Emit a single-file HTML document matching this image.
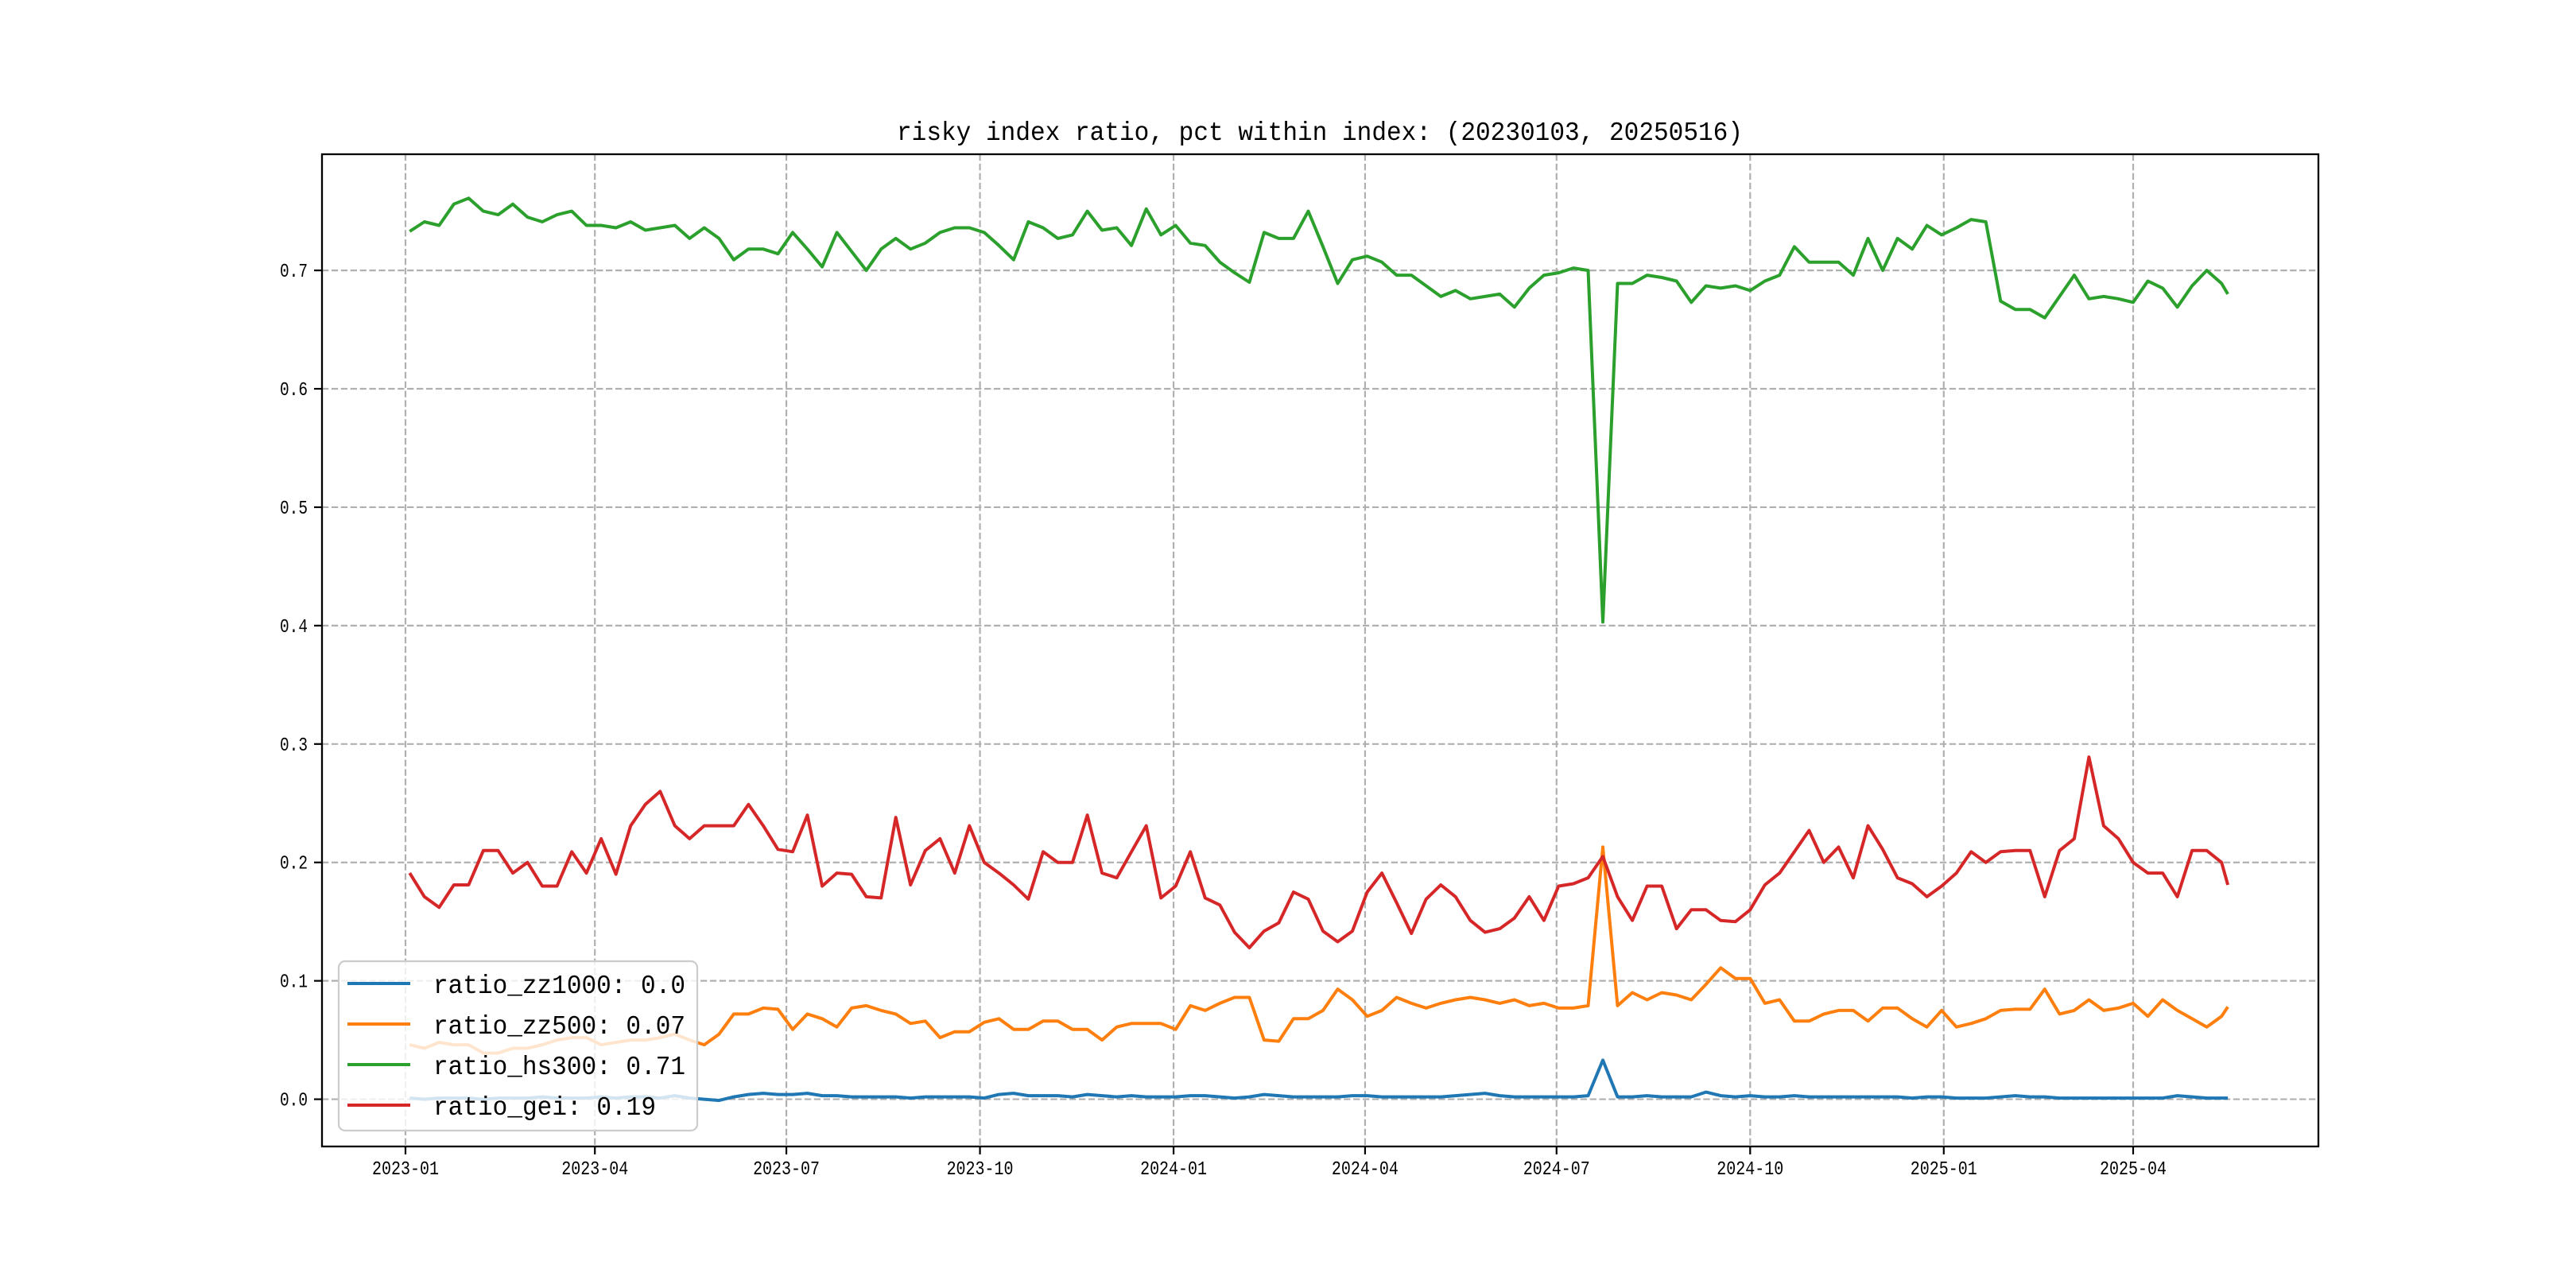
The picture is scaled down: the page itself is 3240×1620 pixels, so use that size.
<!DOCTYPE html>
<html><head><meta charset="utf-8"><style>
html,body{margin:0;padding:0;background:#fff;}
svg{display:block;}
text{font-family:"Liberation Mono","Noto Sans CJK SC",monospace;fill:#000;}
</style></head><body>
<svg id="chart" width="3240" height="1620" viewBox="0 0 3240 1620" xmlns="http://www.w3.org/2000/svg">
<rect x="0" y="0" width="3240" height="1620" fill="#fff"/>
<text x="1660" y="176" font-size="33" text-anchor="middle" textLength="1064" lengthAdjust="spacingAndGlyphs">risky index ratio, pct within index: (20230103, 20250516)</text>
<g id="grid"></g>
<g id="series"></g>
<g id="axes"></g>
<g id="legend"></g>
</svg>
<script>
const startDate = "2023-01-03";
const endDate = "2025-05-16";
const yTicks = [0.0, 0.1, 0.2, 0.3, 0.4, 0.5, 0.6, 0.7];
const xTickLabels = ["2023-01","2023-04","2023-07","2023-10","2024-01","2024-04","2024-07","2024-10","2025-01","2025-04"];
const seriesNames = ["ratio_zz1000: 0.0","ratio_zz500: 0.07","ratio_hs300: 0.71","ratio_gei: 0.19"];
const seriesColors = ["#1f77b4","#ff7f0e","#2ca02c","#d62728"];
const hs300 = [0.733,0.741,0.738,0.756,0.761,0.750,0.747,0.756,0.745,0.741,0.747,0.750,0.738,0.738,0.736,0.741,0.734,0.736,0.738,0.727,0.736,0.727,0.709,0.718,0.718,0.714,0.732,0.718,0.703,0.732,0.716,0.700,0.718,0.727,0.718,0.723,0.732,0.736,0.736,0.732,0.721,0.709,0.741,0.736,0.727,0.730,0.750,0.734,0.736,0.721,0.752,0.730,0.738,0.723,0.721,0.707,0.698,0.690,0.732,0.727,0.727,0.750,0.720,0.689,0.709,0.712,0.707,0.696,0.696,0.687,0.678,0.683,0.676,0.678,0.680,0.669,0.685,0.696,0.698,0.702,0.700,0.403,0.689,0.689,0.696,0.694,0.691,0.673,0.687,0.685,0.687,0.683,0.691,0.696,0.720,0.707,0.707,0.707,0.696,0.727,0.700,0.727,0.718,0.738,0.730,0.736,0.743,0.741,0.674,0.667,0.667,0.660,0.678,0.696,0.676,0.678,0.676,0.673,0.691,0.685,0.669,0.687,0.700,0.689,0.680];
const gei = [0.191,0.171,0.162,0.181,0.181,0.210,0.210,0.191,0.200,0.180,0.180,0.209,0.191,0.220,0.190,0.231,0.249,0.260,0.231,0.220,0.231,0.231,0.231,0.249,0.231,0.211,0.209,0.240,0.180,0.191,0.190,0.171,0.170,0.238,0.181,0.210,0.220,0.191,0.231,0.200,0.191,0.181,0.169,0.209,0.200,0.200,0.240,0.191,0.187,0.209,0.231,0.170,0.180,0.209,0.170,0.164,0.141,0.128,0.142,0.149,0.175,0.169,0.142,0.133,0.142,0.175,0.191,0.166,0.140,0.169,0.181,0.171,0.151,0.141,0.144,0.153,0.171,0.151,0.180,0.182,0.187,0.205,0.171,0.151,0.180,0.180,0.144,0.160,0.160,0.151,0.150,0.160,0.181,0.191,0.209,0.227,0.200,0.213,0.187,0.231,0.211,0.187,0.182,0.171,0.180,0.191,0.209,0.200,0.209,0.210,0.210,0.171,0.210,0.220,0.289,0.231,0.220,0.200,0.191,0.191,0.171,0.210,0.210,0.200,0.181];
const zz500 = [0.046,0.043,0.048,0.046,0.046,0.039,0.039,0.043,0.043,0.046,0.050,0.052,0.052,0.046,0.048,0.050,0.050,0.052,0.055,0.050,0.046,0.055,0.072,0.072,0.077,0.076,0.059,0.072,0.068,0.061,0.077,0.079,0.075,0.072,0.064,0.066,0.052,0.057,0.057,0.065,0.068,0.059,0.059,0.066,0.066,0.059,0.059,0.050,0.061,0.064,0.064,0.064,0.059,0.079,0.075,0.081,0.086,0.086,0.050,0.049,0.068,0.068,0.075,0.093,0.084,0.070,0.075,0.086,0.081,0.077,0.081,0.084,0.086,0.084,0.081,0.084,0.079,0.081,0.077,0.077,0.079,0.213,0.079,0.090,0.084,0.090,0.088,0.084,0.097,0.111,0.102,0.102,0.081,0.084,0.066,0.066,0.072,0.075,0.075,0.066,0.077,0.077,0.068,0.061,0.075,0.061,0.064,0.068,0.075,0.076,0.076,0.093,0.072,0.075,0.084,0.075,0.077,0.081,0.070,0.084,0.075,0.068,0.061,0.070,0.078];
const zz1000 = [0.001,0.000,0.001,0.001,0.001,0.000,0.001,0.001,0.001,0.002,0.001,0.001,0.001,0.002,0.001,0.002,0.002,0.001,0.003,0.001,0.000,-0.001,0.002,0.004,0.005,0.004,0.004,0.005,0.003,0.003,0.002,0.002,0.002,0.002,0.001,0.002,0.002,0.002,0.002,0.001,0.004,0.005,0.003,0.003,0.003,0.002,0.004,0.003,0.002,0.003,0.002,0.002,0.002,0.003,0.003,0.002,0.001,0.002,0.004,0.003,0.002,0.002,0.002,0.002,0.003,0.003,0.002,0.002,0.002,0.002,0.002,0.003,0.004,0.005,0.003,0.002,0.002,0.002,0.002,0.002,0.003,0.033,0.002,0.002,0.003,0.002,0.002,0.002,0.006,0.003,0.002,0.003,0.002,0.002,0.003,0.002,0.002,0.002,0.002,0.002,0.002,0.002,0.001,0.002,0.002,0.001,0.001,0.001,0.002,0.003,0.002,0.002,0.001,0.001,0.001,0.001,0.001,0.001,0.001,0.001,0.003,0.002,0.001,0.001,0.001];
const allSeries = [zz1000, zz500, hs300, gei];

const NS = "http://www.w3.org/2000/svg";
const L = 405, R = 2916, T = 194, B = 1442;
const yMin = -0.0399, yMax = 0.7981;
const day0 = Date.UTC(2023,0,1);
function dayNum(s){const p=s.split("-").map(Number);return (Date.UTC(p[0],p[1]-1,p[2]||1)-day0)/86400000;}
const pxPerDay = (2683-510)/821;
function xScale(s){return 510 + dayNum(s)*pxPerDay;}
function yScale(v){return B - (v - yMin)/(yMax - yMin)*(B - T);}
function mk(tag, attrs, parent){const e=document.createElementNS(NS,tag);for(const k in attrs)e.setAttribute(k,attrs[k]);parent.appendChild(e);return e;}
function fmtDate(d){return d.toISOString().slice(0,10);}
// categories: weekly dates from start, last at end date
const dates = [];
{const s=new Date(startDate+"T00:00:00Z");const n=hs300.length;
 for(let i=0;i<n-1;i++){dates.push(fmtDate(new Date(s.getTime()+i*7*86400000)));}
 dates.push(endDate);}

const grid=document.getElementById("grid"), axes=document.getElementById("axes"), series=document.getElementById("series"), legend=document.getElementById("legend");
// grid + ticks
yTicks.forEach(v=>{
  const y=yScale(v);
  const g=mk("line",{x1:L,x2:R,y1:y,y2:y,stroke:"#b0b0b0","stroke-width":2.2,"stroke-dasharray":"8.3 3.6"},grid);
  
  
  const t=mk("line",{x1:L-10,x2:L,y1:y,y2:y,stroke:"#000","stroke-width":2.2},axes);
  
  
  const lb=mk("text",{x:L-18,y:y+8,"font-size":24,"text-anchor":"end",textLength:35,lengthAdjust:"spacingAndGlyphs"},axes);
  lb.textContent=v.toFixed(1);
  
  
});
xTickLabels.forEach(s=>{
  const x=xScale(s);
  const g=mk("line",{x1:x,x2:x,y1:T,y2:B,stroke:"#b0b0b0","stroke-width":2.2,"stroke-dasharray":"8.3 3.6"},grid);
  
  
  const t=mk("line",{x1:x,x2:x,y1:B,y2:B+10,stroke:"#000","stroke-width":2.2},axes);
  
  
  const lb=mk("text",{x:x,y:B+35,"font-size":24,"text-anchor":"middle",textLength:84,lengthAdjust:"spacingAndGlyphs"},axes);
  lb.textContent=s;
  
  
});
// series
const order=[0,1,2,3];
order.forEach(i=>{
  const vals=allSeries[i];
  const pts=vals.map((v,k)=>xScale(dates[k]).toFixed(1)+","+yScale(v).toFixed(1)).join(" ");
  const pl=mk("polyline",{points:pts,fill:"none",stroke:seriesColors[i],"stroke-width":4,"stroke-linejoin":"round"},series);
  
  
});
// frame
const fr=mk("rect",{x:L,y:T,width:R-L,height:B-T,fill:"none",stroke:"#000","stroke-width":2.3},axes);


// legend
const lbx=mk("rect",{x:426,y:1209,width:451,height:213,rx:8,fill:"#fff","fill-opacity":0.8,stroke:"#cccccc","stroke-width":2.2},legend);


const rowY=[1237,1288,1339,1390];
seriesNames.forEach((n,i)=>{
  const ln=mk("line",{x1:437,x2:516,y1:rowY[i],y2:rowY[i],stroke:seriesColors[i],"stroke-width":4},legend);
  
  
  const tx=mk("text",{x:545,y:rowY[i]+12,"font-size":33,textLength:(n.length*18.65).toFixed(0),lengthAdjust:"spacingAndGlyphs"},legend);
  tx.textContent=n;
  
  
});
</script>
</body></html>
